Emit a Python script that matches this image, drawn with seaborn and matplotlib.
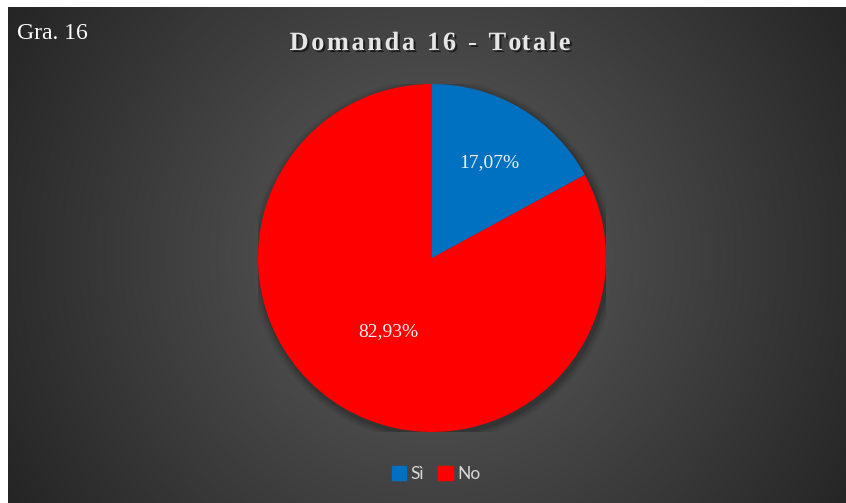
import numpy as np
import matplotlib
matplotlib.use("Agg")
import matplotlib.pyplot as plt
import matplotlib.patheffects as pe
from matplotlib.patches import Rectangle, Circle
import seaborn as sns

# Data
categories = ["Sì", "No"]
shares = [17.07, 82.93]
slice_colors = ["#0070C0", "#FF0000"]
title_text = "Domanda 16 - Totale"
tag_text = "Gra. 16"

sns.set_theme(style="dark")
plt.rcParams["font.family"] = ["Liberation Serif", "DejaVu Serif"]

W, H, DPI = 846, 503, 100
fig = plt.figure(figsize=(W / DPI, H / DPI), dpi=DPI, facecolor="white")

# Dark radial-gradient panel (white strip left and top)
left_px, top_px = 8, 7
bg_ax = fig.add_axes([left_px / W, 0, (W - left_px) / W, (H - top_px) / H])
bw, bh = W - left_px, H - top_px
yy, xx = np.mgrid[0:bh, 0:bw]
cx, cy = 432 - left_px, 255 - top_px
r = np.hypot(xx - cx, yy - cy) / 490.0
v = np.clip(94 - 57 * r, 34, 94) / 255.0
img = np.dstack([v, v, v])
bg_ax.imshow(img, aspect="auto", interpolation="bilinear")
bg_ax.set_axis_off()

# Pie
pcx, pcy, rad = 432, 258, 174
ax = fig.add_axes([(pcx - rad) / W, (H - pcy - rad) / H, 2 * rad / W, 2 * rad / H])
ax.set_facecolor("none")
ax.set_axis_off()

# soft shadow around the pie
for k, a in enumerate([0.10, 0.08, 0.06, 0.04]):
    ax.add_patch(Circle((0.01, -0.015), 1.0 + 0.012 * (k + 1), color="black",
                        alpha=a, lw=0, zorder=0))

palette = sns.color_palette(slice_colors)
wedges, texts, autotexts = ax.pie(
    shares, colors=palette, startangle=90, counterclock=False,
    autopct=lambda p: f"{p:.2f}%".replace(".", ","),
    pctdistance=0.6, wedgeprops=dict(linewidth=0, zorder=2),
    textprops=dict(color="#f0f0f0", fontsize=14, family="Liberation Serif"),
)
label_dist = [0.64, 0.49]
for w, t, d in zip(wedges, autotexts, label_dist):
    mid = np.deg2rad((w.theta1 + w.theta2) / 2)
    t.set_position((d * np.cos(mid), d * np.sin(mid)))
    t.set_ha("center")
    t.set_va("center")
    t.set_zorder(5)
ax.set_xlim(-1, 1)
ax.set_ylim(-1, 1)
ax.set_aspect("equal")

# Tag in the top-left corner
fig.text(17 / W, 1 - 39 / H, tag_text, color="white", fontsize=17,
         family="Liberation Serif", ha="left", va="baseline")

# Letter-spaced title with a drop shadow
renderer = fig.canvas.get_renderer()
tprops = dict(fontsize=19, fontweight="bold", family="Liberation Serif")
spacing = 2.6


def text_width(s):
    if not s:
        return 0.0
    t = fig.text(0, 0, s, **tprops)
    wdt = t.get_window_extent(renderer).width
    t.remove()
    return wdt


total = text_width(title_text) + spacing * (len(title_text) - 1)
x0 = 430 - total / 2
shadow = [pe.SimplePatchShadow(offset=(1.5, -1.5), shadow_rgbFace="black", alpha=0.55),
          pe.Normal()]
for i, ch in enumerate(title_text):
    if ch == " ":
        continue
    xpix = x0 + text_width(title_text[:i]) + spacing * i
    fig.text(xpix / W, 1 - 50 / H, ch, color="#e6e6e6", ha="left", va="baseline",
             path_effects=shadow, **tprops)

# Legend
handles = [Rectangle((0, 0), 1, 1, color=c) for c in palette]
leg = fig.legend(handles, categories, loc="center", bbox_to_anchor=(436 / W, 1 - 474 / H),
                 ncol=2, frameon=False, handlelength=0.85, handleheight=0.85,
                 handletextpad=0.25, columnspacing=0.8,
                 prop=dict(family="Lato", size=12.5))
for t in leg.get_texts():
    t.set_color("#d9d9d9")

fig.savefig("out.png", dpi=DPI, facecolor="white")
